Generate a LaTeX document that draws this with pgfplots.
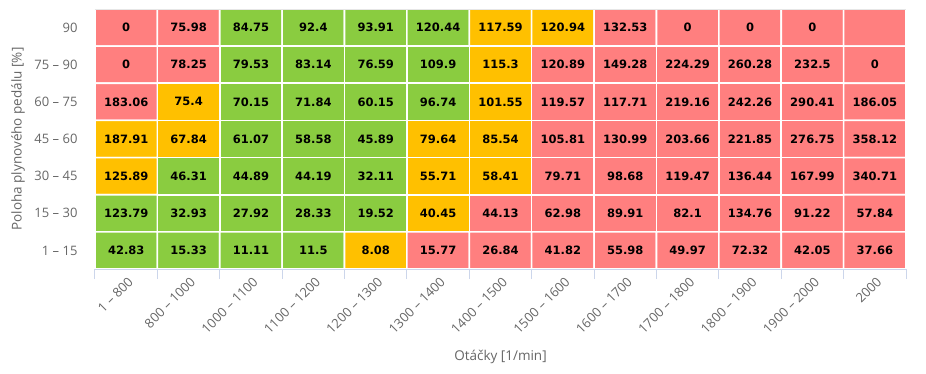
\documentclass[border=0pt]{standalone}
\usepackage{fontspec}
\setmainfont{Open Sans}
\newfontfamily\lblfont{DejaVu Sans}
\usepackage{pgfplots}
\pgfplotsset{compat=1.18}
\definecolor{axgrey}{RGB}{204,214,235}
\definecolor{txgrey}{RGB}{102,102,102}
\definecolor{topgrey}{RGB}{230,230,230}
\begin{document}
\begin{tikzpicture}
\path[use as bounding box] (0,0) rectangle (926pt,374pt);
\begin{axis}[
  at={(95pt,105pt)}, anchor=south west,
  scale only axis, width=811pt, height=260pt,
  xmin=-0.5, xmax=12.5, ymin=-0.5, ymax=6.5,
  enlargelimits=false,
  y dir=reverse,
  axis line style={draw=none},
  xtick={0,...,12},
  xticklabels={1 – 800,800 – 1000,1000 – 1100,1100 – 1200,1200 – 1300,1300 – 1400,1400 – 1500,1500 – 1600,1600 – 1700,1700 – 1800,1800 – 1900,1900 – 2000,2000},
  ytick={0,...,6},
  yticklabels={90,75 – 90,60 – 75,45 – 60,30 – 45,15 – 30,1 – 15},
  major tick length=0pt,
  tick pos=bottom,
  extra x ticks={-0.5,0.5,...,12.5},
  extra x tick labels={},
  extra x tick style={major tick length=10pt, tick align=outside, tick style={draw=axgrey, line width=1pt}},
  xticklabel style={yshift=-7pt, xshift=1pt, rotate=45, anchor=north east, inner sep=0pt, font=\fontsize{13}{15}\selectfont, text=txgrey},
  yticklabel style={xshift=-14pt, font=\fontsize{13}{15}\selectfont, text=txgrey},
  xlabel={Otáčky [1/min]},
  ylabel={Poloha plynového pedálu [\%]},
  xlabel style={at={(axis description cs:0.5,0)}, anchor=center, yshift=-88pt, font=\fontsize{13.5}{15}\selectfont, text=txgrey},
  ylabel style={at={(axis description cs:0,0.5)}, anchor=center, yshift=77pt, font=\fontsize{13.5}{15}\selectfont, text=txgrey},
  colormap={hc}{rgb255=(255,127,127) rgb255=(138,204,64) rgb255=(255,192,0)},
  colormap access=direct,
  clip=false,
]
% class: 0 = red, 1 = green, 2 = yellow ; row 0 = "90", row 6 = "1 - 15"
\addplot[matrix plot, mesh/cols=13, mesh/rows=7, point meta=explicit, shader=faceted, faceted color=white, line width=1.6pt]
table[x=x, y=y, meta=c] {
x y c
0 0 0
1 0 0
2 0 1
3 0 1
4 0 1
5 0 1
6 0 2
7 0 2
8 0 0
9 0 0
10 0 0
11 0 0
12 0 0
0 1 0
1 1 0
2 1 1
3 1 1
4 1 1
5 1 1
6 1 2
7 1 0
8 1 0
9 1 0
10 1 0
11 1 0
12 1 0
0 2 0
1 2 2
2 2 1
3 2 1
4 2 1
5 2 1
6 2 2
7 2 0
8 2 0
9 2 0
10 2 0
11 2 0
12 2 0
0 3 2
1 3 2
2 3 1
3 3 1
4 3 1
5 3 2
6 3 2
7 3 0
8 3 0
9 3 0
10 3 0
11 3 0
12 3 0
0 4 2
1 4 1
2 4 1
3 4 1
4 4 1
5 4 2
6 4 2
7 4 0
8 4 0
9 4 0
10 4 0
11 4 0
12 4 0
0 5 1
1 5 1
2 5 1
3 5 1
4 5 1
5 5 2
6 5 0
7 5 0
8 5 0
9 5 0
10 5 0
11 5 0
12 5 0
0 6 1
1 6 1
2 6 1
3 6 1
4 6 2
5 6 0
6 6 0
7 6 0
8 6 0
9 6 0
10 6 0
11 6 0
12 6 0
};
\addplot[only marks, mark=*, mark size=0pt, mark options={draw=none, fill=none},
  point meta=explicit symbolic,
  nodes near coords, nodes near coords align=center,
  nodes near coords style={anchor=center, font=\lblfont\bfseries\fontsize{11.5}{13}\selectfont, text=black}]
table[x=x, y=y, meta=v] {
x y v
0 0 0
1 0 75.98
2 0 84.75
3 0 92.4
4 0 93.91
5 0 120.44
6 0 117.59
7 0 120.94
8 0 132.53
9 0 0
10 0 0
11 0 0
0 1 0
1 1 78.25
2 1 79.53
3 1 83.14
4 1 76.59
5 1 109.9
6 1 115.3
7 1 120.89
8 1 149.28
9 1 224.29
10 1 260.28
11 1 232.5
12 1 0
0 2 183.06
1 2 75.4
2 2 70.15
3 2 71.84
4 2 60.15
5 2 96.74
6 2 101.55
7 2 119.57
8 2 117.71
9 2 219.16
10 2 242.26
11 2 290.41
12 2 186.05
0 3 187.91
1 3 67.84
2 3 61.07
3 3 58.58
4 3 45.89
5 3 79.64
6 3 85.54
7 3 105.81
8 3 130.99
9 3 203.66
10 3 221.85
11 3 276.75
12 3 358.12
0 4 125.89
1 4 46.31
2 4 44.89
3 4 44.19
4 4 32.11
5 4 55.71
6 4 58.41
7 4 79.71
8 4 98.68
9 4 119.47
10 4 136.44
11 4 167.99
12 4 340.71
0 5 123.79
1 5 32.93
2 5 27.92
3 5 28.33
4 5 19.52
5 5 40.45
6 5 44.13
7 5 62.98
8 5 89.91
9 5 82.1
10 5 134.76
11 5 91.22
12 5 57.84
0 6 42.83
1 6 15.33
2 6 11.11
3 6 11.5
4 6 8.08
5 6 15.77
6 6 26.84
7 6 41.82
8 6 55.98
9 6 49.97
10 6 72.32
11 6 42.05
12 6 37.66
};
\draw[axgrey, line width=1pt] (rel axis cs:0,0) -- (rel axis cs:1,0);
\draw[topgrey, line width=1pt] (rel axis cs:0,1) -- (rel axis cs:1,1);
\end{axis}
\end{tikzpicture}
\end{document}
